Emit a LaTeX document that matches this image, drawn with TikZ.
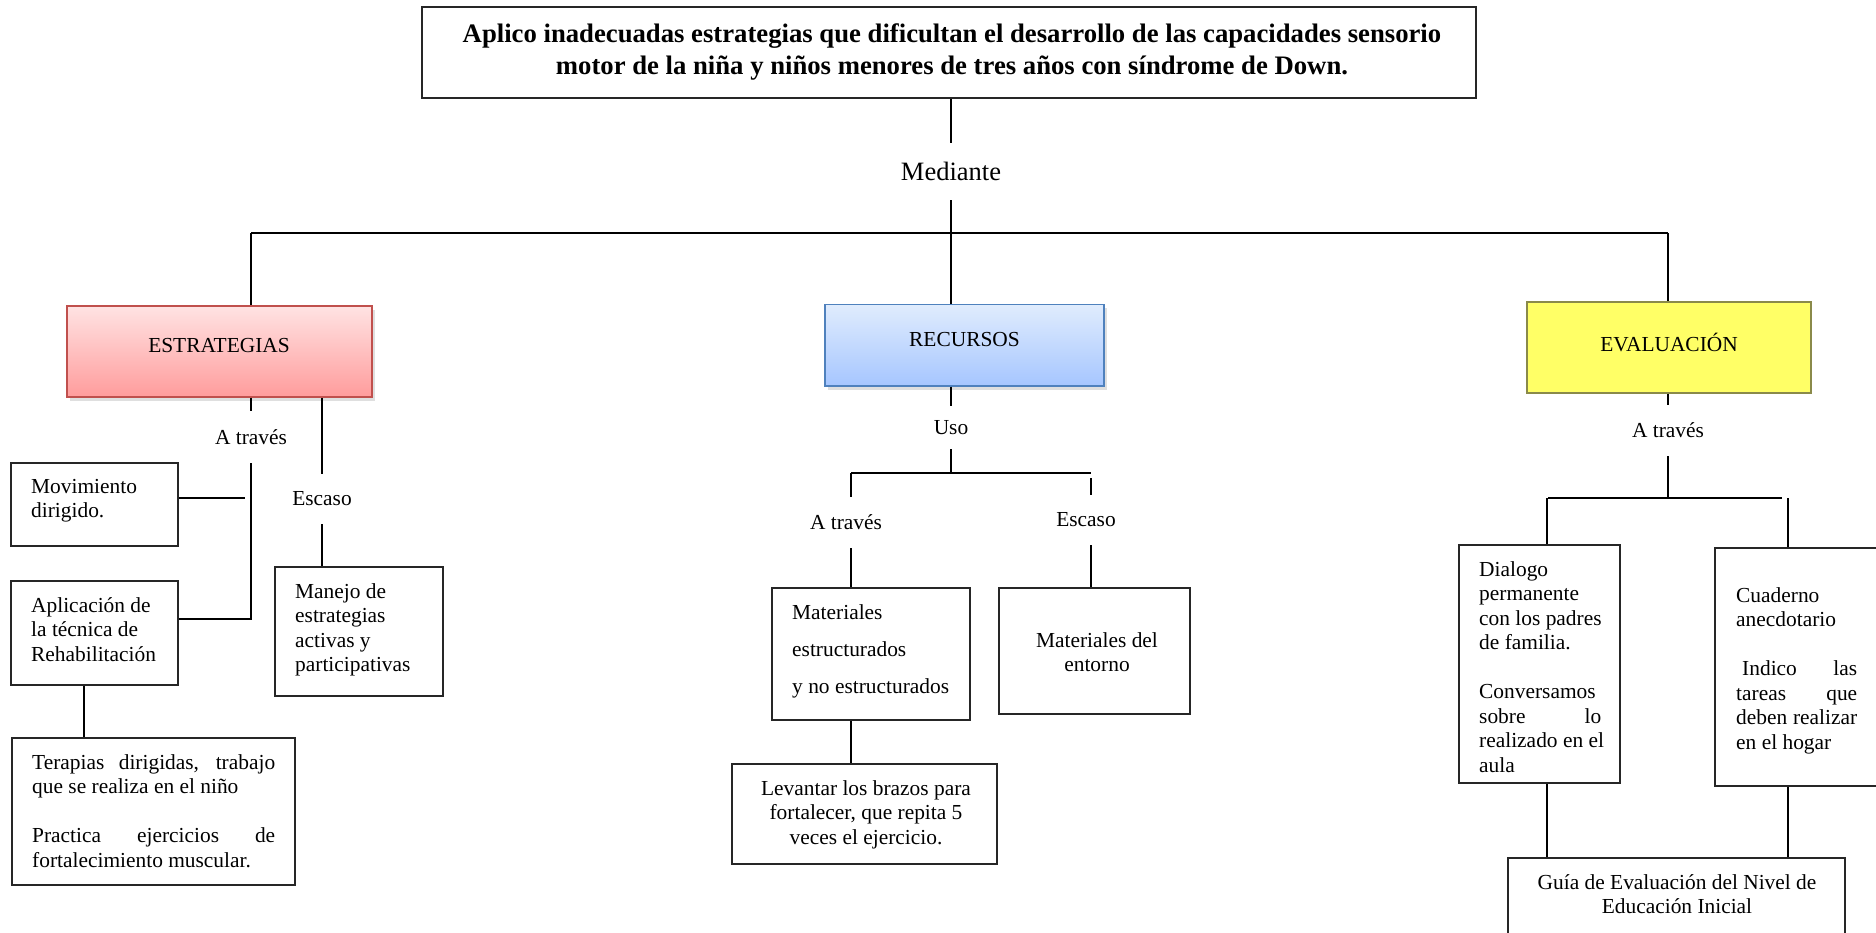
\documentclass[tikz,border=0pt]{standalone}
\usepackage{fontspec}
\setmainfont{Liberation Serif}
\usetikzlibrary{shadows}
\definecolor{estrBorder}{HTML}{C0504D}
\definecolor{estrTop}{HTML}{FFE3E3}
\definecolor{estrBot}{HTML}{FF9C9C}
\definecolor{recBorder}{HTML}{4F81BD}
\definecolor{recTop}{HTML}{E0ECFD}
\definecolor{recBot}{HTML}{A6C6FF}
\definecolor{evaBorder}{HTML}{8A8A4A}
\definecolor{evaFill}{HTML}{FFFF66}
\tikzset{
  plainbox/.style={draw=black!85, line width=1.5pt, rectangle, inner sep=0pt},
  conn/.style={draw=black, line width=1.3pt},
  txt/.style={inner sep=0pt, anchor=north west, align=left, font=\fontsize{21.4}{24.5}\selectfont},
  ctxt/.style={inner sep=0pt, anchor=north, align=center, font=\fontsize{21.4}{24.5}\selectfont},
  lbl/.style={inner sep=0pt, font=\fontsize{21.4}{24.5}\selectfont},
  shad/.style={drop shadow={opacity=0.25, shadow xshift=3pt, shadow yshift=-4pt}},
}
\begin{document}
\begin{tikzpicture}[x=1pt,y=-1pt]
\useasboundingbox (0,0) rectangle (1876,932);
% ---------- title ----------
\node[plainbox, line width=1.8pt, minimum width=1054pt, minimum height=91pt] (t) at (949,52.5) {};
\node[inner sep=0pt, anchor=north, align=center, font=\fontsize{26.7}{32}\selectfont\bfseries] (tT) at (952,19.4)
  {\strut Aplico inadecuadas estrategias que dificultan el desarrollo de las capacidades sensorio\\motor de la niña y niños menores de tres años con síndrome de Down.};
\node[lbl, font=\fontsize{26.5}{30}\selectfont, minimum height=57pt] (med) at (951,171.5) {Mediante};
\coordinate (hL) at (251,233);
\coordinate (hM) at (951,233);
\coordinate (hR) at (1668,233);
\draw[conn] (t.south -| med) -- (med.north);
\draw[conn] (med.south) -- (hM);
\draw[conn] (hL) -- (hR);
% ---------- ESTRATEGIAS ----------
\node[plainbox, draw=estrBorder, top color=estrTop, bottom color=estrBot, shad, minimum width=305pt, minimum height=91pt] (estr) at (219.5,351.5) {};
\node[lbl] (estrText) at (219,346) {ESTRATEGIAS};
\draw[conn] (hL) -- (hL |- estr.north);
\node[lbl, minimum height=52pt] (at1) at (251,437) {A través};
\draw[conn] (estr.south -| at1) -- (at1.north);
\node[plainbox, minimum width=167pt, minimum height=83pt] (mov) at (94.5,504.5) {};
\node[plainbox, minimum width=167pt, minimum height=104pt] (apl) at (94.5,633) {};
\coordinate (c1) at (251,619);
\draw[conn] (at1.south) -- (c1) -- (c1 -| apl.east);
\coordinate (c2) at (245,498);
\draw[conn] (c2 -| mov.east) -- (c2);
\node[txt] (movT) at (31,476) {\strut Movimiento\\dirigido.};
\node[txt] (aplT) at (31,595) {\strut Aplicación de\\la técnica de\\Rehabilitación};
\node[lbl, minimum height=50pt] (esc1) at (322,499) {Escaso};
\draw[conn] (estr.south -| esc1) -- (esc1.north);
\node[plainbox, minimum width=168pt, minimum height=129pt] (man) at (359,631.5) {};
\draw[conn] (esc1.south) -- (esc1.south |- man.north);
\node[txt] (manT) at (295,581) {\strut Manejo de\\estrategias\\activas y\\participativas};
\coordinate (c3) at (84,700);
\node[plainbox, minimum width=283pt, minimum height=147pt] (ter) at (153.5,811.5) {};
\draw[conn] (c3 |- apl.south) -- (c3 |- ter.north);
\node[txt] (terT) at (32,752) {\strut\makebox[243pt][s]{Terapias dirigidas, trabajo}\\que se realiza en el niño\\[24.5pt]\makebox[243pt][s]{Practica ejercicios de}\\fortalecimiento muscular.};
% ---------- RECURSOS ----------
\node[plainbox, draw=recBorder, top color=recTop, bottom color=recBot, shad, minimum width=279pt, minimum height=81.5pt] (rec) at (964.5,345) {};
\node[lbl] (recText) at (964.5,340) {RECURSOS};
\draw[conn] (hM) -- (hM |- rec.north);
\node[lbl, minimum height=43pt] (uso) at (951,427.5) {Uso};
\draw[conn] (rec.south -| uso) -- (uso.north);
\coordinate (hL2) at (851,473);
\coordinate (hM2) at (951,473);
\coordinate (hR2) at (1091,473);
\draw[conn] (uso.south) -- (hM2);
\draw[conn] (hL2) -- (hR2);
\node[lbl, minimum height=51pt] (at2) at (846,522.5) {A través};
\node[lbl, minimum height=50pt] (esc2) at (1086,520) {Escaso};
\draw[conn] (hL2) -- (hL2 |- at2.north);
\draw[conn] ([yshift=-5pt]hR2) -- (hR2 |- esc2.north);
\node[plainbox, minimum width=198pt, minimum height=132pt] (mat) at (871,654) {};
\node[plainbox, minimum width=191pt, minimum height=126pt] (ent) at (1094.5,651) {};
\draw[conn] (hL2 |- at2.south) -- (hL2 |- mat.north);
\draw[conn] (hR2 |- esc2.south) -- (hR2 |- ent.north);
\node[txt] (matT) at (792,602) {\strut Materiales\\[12.5pt]estructurados\\[12.5pt]y no estructurados};
\node[ctxt] (entT) at (1097,630) {\strut Materiales del\\entorno};
\node[plainbox, minimum width=265pt, minimum height=100pt] (lev) at (864.5,814) {};
\draw[conn] (hL2 |- mat.south) -- (hL2 |- lev.north);
\node[ctxt] (levT) at (866,778) {\strut Levantar los brazos para\\fortalecer, que repita 5\\veces el ejercicio.};
% ---------- EVALUACION ----------
\node[plainbox, draw=evaBorder, fill=evaFill, minimum width=284pt, minimum height=91pt] (eva) at (1669,347.5) {};
\node[lbl] (evaText) at (1669,342) {EVALUACIÓN};
\draw[conn] (hR) -- (hR |- eva.north);
\node[lbl, minimum height=51pt] (at3) at (1668,430.5) {A través};
\draw[conn] (eva.south -| at3) -- (at3.north);
\coordinate (hL3) at (1548,498);
\coordinate (hM3) at (1668,498);
\coordinate (hR3) at (1782,498);
\draw[conn] (at3.south) -- (hM3);
\draw[conn] (hL3) -- (hR3);
\node[plainbox, minimum width=161pt, minimum height=238pt] (dia) at (1539.5,664) {};
\node[plainbox, minimum width=165pt, minimum height=238pt] (cua) at (1797.5,667) {};
\coordinate (v1) at (1547,520);
\coordinate (v2) at (1788,520);
\draw[conn] (v1 |- hL3) -- (v1 |- dia.north);
\draw[conn] (v2 |- hR3) -- (v2 |- cua.north);
\node[txt] (diaT) at (1479,559) {\strut Dialogo\\permanente\\con los padres\\de familia.\\[24.5pt]Conversamos\\\makebox[122pt][s]{sobre lo}\\realizado en el\\aula};
\node[txt] (cuaT) at (1736,585) {\strut Cuaderno\\anecdotario\\[24.5pt]\makebox[121pt][s]{\hspace{6pt}Indico las}\\\makebox[121pt][s]{tareas que}\\\makebox[121pt][s]{deben realizar}\\en el hogar};
\node[plainbox, line width=2.2pt, minimum width=337pt, minimum height=87pt] (gui) at (1676.5,901.5) {};
\draw[conn] (v1 |- dia.south) -- (v1 |- gui.north);
\draw[conn] (v2 |- cua.south) -- (v2 |- gui.north);
\node[ctxt] (guiT) at (1677,872) {\strut Guía de Evaluación del Nivel de\\Educación Inicial};
\end{tikzpicture}
\end{document}
